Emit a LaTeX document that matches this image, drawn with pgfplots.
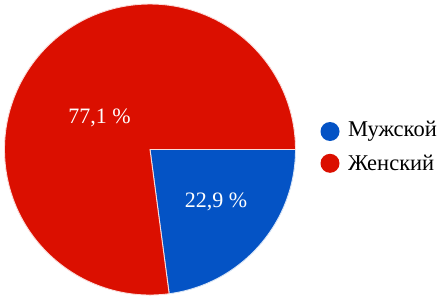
\documentclass[border=0pt]{standalone}
\usepackage{pgfplots}
\usepackage{pgfplotstable}
\pgfplotsset{compat=1.18}
\usepackage{fontspec}
\setmainfont{Liberation Serif}
\definecolor{mblue}{RGB}{4,83,197}
\definecolor{fred}{RGB}{219,15,0}
\pgfplotstableread{
idx value
0 22.9
1 77.1
}\piedata
\begin{document}
\begin{tikzpicture}
\pgfplotstablegetelem{0}{value}\of\piedata
\pgfmathsetmacro{\va}{\pgfplotsretval}
\pgfplotstablegetelem{1}{value}\of\piedata
\pgfmathsetmacro{\vb}{\pgfplotsretval}
\pgfmathsetmacro{\aa}{-3.6*\va}
\pgfmathsetmacro{\ab}{\aa-3.6*\vb}
\begin{axis}[
  at={(0,0)}, anchor=south west,
  scale only axis, width=444pt, height=298pt,
  xmin=0, xmax=444, ymin=0, ymax=298,
  hide axis, clip=false]
% blue slice (Мужской)
\fill[mblue, draw=white!85!mblue, line width=0.9pt] (axis cs:150,148.5) -- ++(0:145.5pt) arc[start angle=0, end angle=\aa, radius=145.5pt] -- cycle;
% red slice (Женский)
\fill[fred, draw=white!85!fred, line width=0.9pt] (axis cs:150,148.5) -- ++(\aa:145.5pt) arc[start angle=\aa, end angle=\ab, radius=145.5pt] -- cycle;
\node[text=white, font=\fontsize{22}{25}\selectfont, inner sep=0pt] at (axis cs:99.5,180) {77,1 \%};
\node[text=white, font=\fontsize{22}{25}\selectfont, inner sep=0pt] at (axis cs:216,96.5) {22,9 \%};
% legend
\fill[mblue] (axis cs:330,166.5) circle[radius=9.5pt];
\fill[fred] (axis cs:330,134.7) circle[radius=9.5pt];
\node[anchor=west, inner sep=0pt, font=\fontsize{22.5}{25}\selectfont] at (axis cs:348,166.5) {Мужской};
\node[anchor=west, inner sep=0pt, font=\fontsize{22.5}{25}\selectfont] at (axis cs:348,134.7) {Женский};
\end{axis}
\pgfresetboundingbox
\path[use as bounding box] (0,0) rectangle (444pt,298pt);
\end{tikzpicture}
\end{document}
